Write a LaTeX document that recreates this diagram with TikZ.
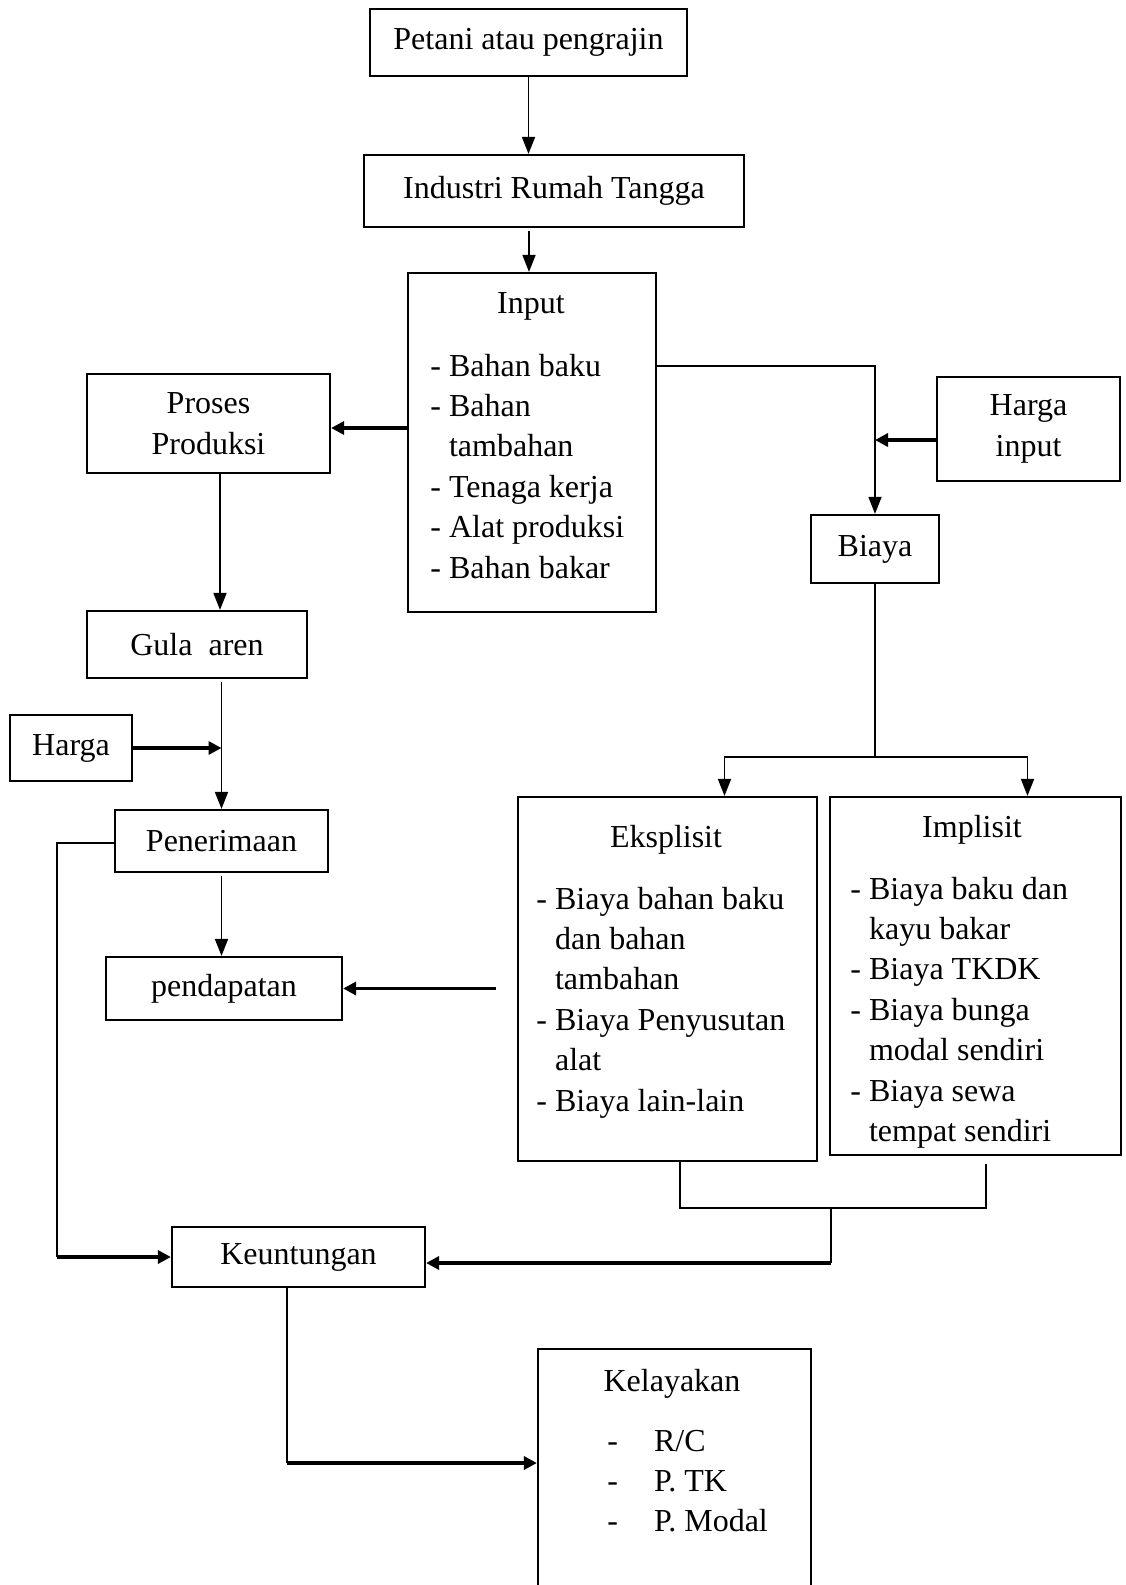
\documentclass[tikz,border=0pt]{standalone}
\usepackage{fontspec}
\setmainfont{Liberation Serif}
\usetikzlibrary{arrows.meta,calc}
\newcommand{\myfs}{\fontsize{16}{20.2}\selectfont}
\begin{document}
\begin{tikzpicture}[x=0.5pt,y=-0.5pt,
  box/.style={draw,line width=1.1pt,inner sep=0pt,align=center,font=\myfs},
  txt/.style={inner sep=0pt,font=\myfs},
  conn/.style={line width=0.85pt,-{Triangle[length=8.5pt,width=6.5pt]}},
  thinline/.style={line width=0.55pt},
  thickarr/.style={line width=1.8pt,-{Triangle[length=6.5pt,width=6.5pt]}},
]
\clip (0,0) rectangle (1125,1585);
% boxes
\node[box,minimum width=158.5pt,minimum height=33.5pt] (Petani) at (528.5,42.5) {Petani atau pengrajin};
\node[box,minimum width=190pt,minimum height=36pt] (Industri) at (554,191) {\raisebox{2pt}{Industri Rumah Tangga}};
\node[box,minimum width=124pt,minimum height=169.5pt] (Input) at (532,442.5) {};
\node[box,minimum width=121.5pt,minimum height=49.5pt] (Proses) at (208.5,423.5) {Proses\\Produksi};
\node[box,minimum width=91.5pt,minimum height=52pt] (HargaInput) at (1028.5,429) {Harga\\input};
\node[box,minimum width=64pt,minimum height=34pt] (Biaya) at (875,549) {Biaya};
\node[box,minimum width=110pt,minimum height=33.5pt] (Gula) at (197,644.5) {Gula~ aren};
\node[box,minimum width=61pt,minimum height=33pt] (Harga) at (71,748) {Harga};
\node[box,minimum width=106.5pt,minimum height=31pt] (Penerimaan) at (221.5,841) {Penerimaan};
\node[box,minimum width=118pt,minimum height=31.5pt] (Pendapatan) at (224,988.5) {pendapatan};
\node[box,minimum width=149.5pt,minimum height=182pt] (Eksplisit) at (667.5,979) {};
\node[box,minimum width=145.5pt,minimum height=179pt] (Implisit) at (975.5,976) {};
\node[box,minimum width=126.5pt,minimum height=30pt] (Keuntungan) at (298.5,1257) {Keuntungan};
\node[box,minimum width=136.5pt,minimum height=135.5pt] (Kelayakan) at (674.5,1484.5) {};
% texts inside list boxes
\node[txt,anchor=base] (InputT) at (531,313) {Input};
\node[txt,anchor=base west] (InputL) at (430,376) {\begin{tabular}[t]{@{}l@{}}- Bahan baku\\- Bahan\\\phantom{-} tambahan\\- Tenaga kerja\\- Alat produksi\\- Bahan bakar\end{tabular}};
\node[txt,anchor=base] (EksT) at (666,847) {Eksplisit};
\node[txt,anchor=base west] (EksL) at (536,909) {\begin{tabular}[t]{@{}l@{}}- Biaya bahan baku\\\phantom{-} dan bahan\\\phantom{-} tambahan\\- Biaya Penyusutan\\\phantom{-} alat\\- Biaya lain-lain\end{tabular}};
\node[txt,anchor=base] (ImpT) at (972,837) {Implisit};
\node[txt,anchor=base west] (ImpL) at (850,899) {\begin{tabular}[t]{@{}l@{}}- Biaya baku dan\\\phantom{-} kayu bakar\\- Biaya TKDK\\- Biaya bunga\\\phantom{-} modal sendiri\\- Biaya sewa\\\phantom{-} tempat sendiri\end{tabular}};
\node[txt,anchor=base] (KelT) at (672,1391) {Kelayakan};
\node[txt,anchor=base west] (KelL) at (607,1451) {\begin{tabular}[t]{@{}l@{\hspace{18pt}}l@{}}-&R/C\\-&P. TK\\-&P. Modal\end{tabular}};
% helper coordinates
\coordinate (y366) at (0,366);
\coordinate (y440) at (0,440);
\coordinate (y757) at (0,757);
\coordinate (y1208) at (0,1208);
\coordinate (y1463) at (0,1463);
\coordinate (x57) at (57,0);
\coordinate (x831) at (831,0);
% connectors
\draw[conn] (Petani.south) -- (Petani.south |- Industri.north);
\draw[conn] ($(Input.north |- Industri.south)+(-3,3)$) -- ($(Input.north)+(-3,0)$);
\coordinate (pe) at ($(Proses.east)+(0,4.5)$);
\draw[thickarr] (Input.west |- pe) -- (pe);
\coordinate (ib) at (Biaya.north |- y366);
\draw[line width=0.7pt,-{Triangle[length=8.5pt,width=6.5pt]}] (Input.east |- ib) -- (ib) -- (Biaya.north);
\coordinate (hj) at (Biaya.north |- y440);
\draw[thickarr] (HargaInput.west |- hj) -- (hj);
\coordinate (bs) at (Biaya.south |- y757);
\draw[thinline] (Biaya.south) -- (bs);
\draw[conn] (bs) -| ($(Eksplisit.north)+(57,0)$);
\draw[conn] (bs) -| ($(Implisit.north)+(52,0)$);
\coordinate (pg) at ($(Proses.south)+(11.5,0)$);
\draw[conn] (pg) -- (pg |- Gula.north);
\draw[conn] ($(Penerimaan.north |- Gula.south)+(0,3)$) -- (Penerimaan.north);
\draw[thickarr] (Harga.east) -- (Harga.east -| Penerimaan.north);
\draw[conn] ($(Penerimaan.south)+(0,3)$) -- (Penerimaan.south |- Pendapatan.north);
\coordinate (ew) at (Eksplisit.west |- Pendapatan.east);
\coordinate (ep) at ($(ew)+(-21,0)$);
\draw[thickarr] (ep) -- (Pendapatan.east);
\coordinate (lk) at (Keuntungan.west -| x57);
\draw[thinline] ($(Penerimaan.west)+(0,2)$) -| (lk);
\draw[thickarr] (lk) -- (Keuntungan.west);
\coordinate (es) at ($(Eksplisit.south)+(12.5,0)$);
\coordinate (is) at ($(Implisit.south)+(10.5,8)$);
\draw[thinline] (es) -- (es |- y1208) -- (is |- y1208) -- (is);
\coordinate (ke) at ($(Keuntungan.east)+(0,6)$);
\coordinate (mk) at (x831 |- y1208);
\draw[thinline] (mk) -- (mk |- ke);
\draw[thickarr] (mk |- ke) -- (ke);
\coordinate (ks) at ($(Keuntungan.south)+(-11.5,0)$);
\draw[thinline] (ks) -- (ks |- y1463);
\draw[thickarr] (ks |- y1463) -- (Kelayakan.west |- y1463);
\end{tikzpicture}
\end{document}
